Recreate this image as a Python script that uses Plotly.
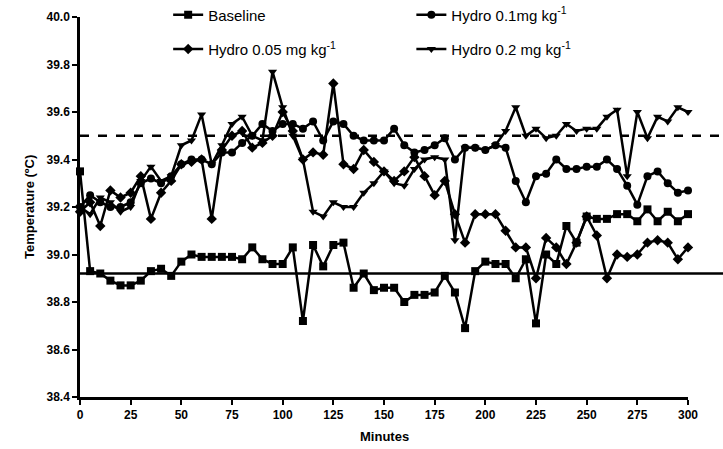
import plotly.graph_objects as go

minutes = list(range(0, 301, 5))

baseline = [39.35, 38.93, 38.92, 38.89, 38.87, 38.87, 38.89, 38.93, 38.94, 38.91,
            38.97, 39.00, 38.99, 38.99, 38.99, 38.99, 38.98, 39.03, 38.98, 38.96,
            38.96, 39.03, 38.72, 39.04, 38.95, 39.04, 39.05, 38.86, 38.92, 38.85,
            38.86, 38.86, 38.80, 38.83, 38.83, 38.84, 38.91, 38.84, 38.69, 38.93,
            38.97, 38.96, 38.96, 38.90, 38.98, 38.71, 39.00, 38.96, 39.12, 39.05,
            39.16, 39.15, 39.15, 39.17, 39.17, 39.14, 39.19, 39.14, 39.18, 39.14,
            39.17]

hydro_01 = [39.20, 39.25, 39.22, 39.20, 39.20, 39.22, 39.30, 39.32, 39.30, 39.33,
            39.38, 39.40, 39.40, 39.38, 39.43, 39.43, 39.47, 39.50, 39.55, 39.52,
            39.55, 39.55, 39.53, 39.56, 39.48, 39.56, 39.55, 39.50, 39.48, 39.48,
            39.48, 39.53, 39.46, 39.43, 39.44, 39.46, 39.49, 39.40, 39.45, 39.45,
            39.44, 39.46, 39.45, 39.31, 39.22, 39.33, 39.34, 39.40, 39.36, 39.36,
            39.37, 39.37, 39.40, 39.36, 39.29, 39.21, 39.33, 39.35, 39.30, 39.26,
            39.27]

hydro_005 = [39.18, 39.22, 39.12, 39.27, 39.24, 39.26, 39.33, 39.15, 39.26, 39.31,
             39.38, 39.39, 39.40, 39.15, 39.44, 39.50, 39.52, 39.45, 39.47, 39.50,
             39.60, 39.52, 39.40, 39.43, 39.42, 39.72, 39.38, 39.36, 39.44, 39.39,
             39.35, 39.31, 39.35, 39.41, 39.33, 39.25, 39.31, 39.17, 39.05, 39.17,
             39.17, 39.17, 39.10, 39.03, 39.03, 38.90, 39.07, 39.03, 38.96, 39.05,
             39.16, 39.08, 38.90, 39.00, 38.99, 39.00, 39.05, 39.06, 39.05, 38.98,
             39.03]

hydro_02 = [39.20, 39.17, 39.24, 39.22, 39.18, 39.20, 39.31, 39.37, 39.31, 39.33,
            39.46, 39.48, 39.59, 39.38, 39.46, 39.55, 39.58, 39.50, 39.48, 39.77,
            39.62, 39.50, 39.40, 39.18, 39.16, 39.22, 39.20, 39.20, 39.26, 39.30,
            39.35, 39.30, 39.29, 39.36, 39.40, 39.41, 39.40, 39.06, 39.45, 39.45,
            39.44, 39.46, 39.52, 39.62, 39.50, 39.53, 39.49, 39.50, 39.55, 39.52,
            39.53, 39.53, 39.58, 39.61, 39.33, 39.60, 39.49, 39.58, 39.56, 39.62,
            39.60]

ref_upper = 39.5
ref_lower = 38.92

series = [
    ("Baseline", baseline, "square", "legend"),
    ("Hydro 0.1mg kg<sup>-1</sup>", hydro_01, "circle", "legend2"),
    ("Hydro 0.05 mg kg<sup>-1</sup>", hydro_005, "diamond", "legend3"),
    ("Hydro 0.2 mg kg<sup>-1</sup>", hydro_02, "triangle-down", "legend4"),
]

FONT = "Liberation Sans, Arial, sans-serif"

fig = go.Figure()
for name, vals, sym, lg in series:
    fig.add_trace(go.Scatter(
        x=minutes, y=vals, name=name, mode="lines+markers",
        line=dict(color="black", width=2.5),
        marker=dict(symbol=sym, size=8, color="black"),
        cliponaxis=False, legend=lg,
    ))

fig.add_shape(type="line", xref="paper", yref="y", x0=0, x1=1.06,
              y0=ref_upper, y1=ref_upper, line=dict(color="black", width=2.5, dash="dash"))
fig.add_shape(type="line", xref="paper", yref="y", x0=0, x1=1.06,
              y0=ref_lower, y1=ref_lower, line=dict(color="black", width=2.5))

legfont = dict(family=FONT, size=15, color="black")
def leg(x, y):
    return dict(x=x, y=y, xanchor="left", yanchor="middle", font=legfont,
                bgcolor="rgba(0,0,0,0)", borderwidth=0)

fig.update_layout(
    width=723, height=449,
    margin=dict(l=80, r=35, t=17, b=52, autoexpand=False),
    paper_bgcolor="white", plot_bgcolor="white",
    showlegend=True,
    legend=leg(0.145, 1.005),
    legend2=leg(0.545, 1.005),
    legend3=leg(0.145, 0.915),
    legend4=leg(0.545, 0.915),
    font=dict(family=FONT, color="black"),
)

fig.add_annotation(text="<b>Temperature (ºC)</b>", xref="paper", yref="paper",
                   x=-0.084, y=0.5, xanchor="center", yanchor="middle",
                   textangle=-90, showarrow=False,
                   font=dict(family=FONT, size=13, color="black"))
fig.add_annotation(text="<b>Minutes</b>", xref="paper", yref="paper",
                   x=0.5, y=-0.105, xanchor="center", yanchor="middle",
                   showarrow=False,
                   font=dict(family=FONT, size=13, color="black"))

fig.update_xaxes(
    range=[0, 300], tickmode="linear", tick0=0, dtick=25,
    showgrid=False, zeroline=False,
    showline=True, linecolor="black", linewidth=2.5,
    ticks="outside", ticklen=5, tickwidth=2, tickcolor="black",
    tickfont=dict(size=12, family=FONT, weight="bold"),
)
fig.update_yaxes(
    range=[38.4, 40.0], tickmode="linear", tick0=38.4, dtick=0.2, tickformat=".1f",
    showgrid=False, zeroline=False,
    showline=True, linecolor="black", linewidth=2.5,
    ticks="outside", ticklen=5, tickwidth=2, tickcolor="black",
    tickfont=dict(size=12, family=FONT, weight="bold"),
)

fig.write_html("out.html")
